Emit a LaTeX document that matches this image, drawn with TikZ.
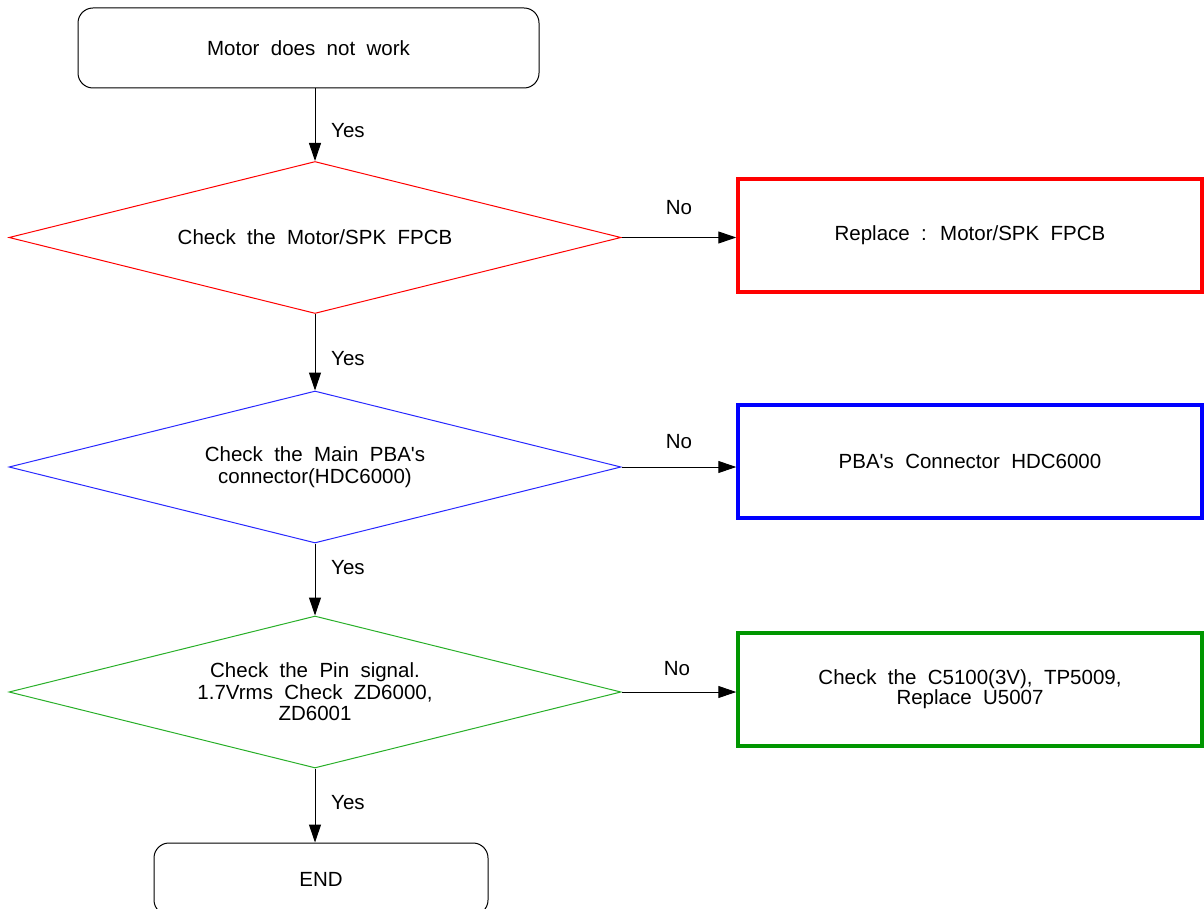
\documentclass[tikz,border=0pt]{standalone}
\usepackage{fontspec}
\setmainfont{Liberation Sans}[WordSpace=2,Ligatures=TeXOff]
\usetikzlibrary{shapes.geometric,arrows.meta}
\definecolor{boxgreen}{RGB}{0,150,0}
\definecolor{dgreen}{RGB}{40,175,40}
\definecolor{dblue}{RGB}{40,40,255}
\begin{document}
\begin{tikzpicture}[x=1pt,y=-1pt,
  every node/.style={font=\fontsize{20.5}{21.5}\selectfont, align=center},
  term/.style={draw=black, line width=1pt, rounded corners=15pt, inner sep=0pt},
  dec/.style={diamond, draw, line width=1pt, minimum width=612pt, minimum height=152pt, aspect=4.03, inner sep=0pt},
  res/.style={draw, line width=3.5pt, minimum width=464pt, minimum height=113pt, inner sep=0pt},
  arr/.style={-{Triangle[length=18pt,width=12pt]}, line width=1pt, draw=black},
  lbl/.style={anchor=west, inner sep=0pt},
  nolbl/.style={inner sep=0pt}
]
\useasboundingbox (0,0) rectangle (1204,909);
\clip (0,0) rectangle (1204,909);

\node[term, minimum width=461pt, minimum height=80pt] (top) at (308.5,48) {Motor does not work};
\node[dec, draw=red] (d1) at (315,237.5) {Check the Motor/SPK FPCB};
\node[dec, draw=dblue] (d2) at (315,467) {Check the Main PBA's\\connector(HDC6000)};
\node[dec, draw=dgreen] (d3) at (315,692) {Check the Pin signal.\\1.7Vrms Check ZD6000,\\ZD6001};
\node[term, minimum width=334pt, minimum height=72pt] (en) at (321,879) {END};

\node[res, draw=red] (r1) at (970,235.5) {Replace : Motor/SPK FPCB};
\node[res, draw=blue] (r2) at (970,461.5) {PBA's Connector HDC6000};
\node[res, draw=boxgreen, font=\fontsize{20.5}{20}\selectfont] (r3) at (970,689.5) {Check the C5100(3V), TP5009,\\Replace U5007};

\draw[arr] (top.south -| d1.north) -- (d1.north);
\draw[arr] (d1.south) -- (d2.north);
\draw[arr] (d2.south) -- (d3.north);
\draw[arr] (d3.south) -- (d3.south |- en.north);
\draw[arr] (d1.east) -- (d1.east -| r1.west);
\draw[arr] (d2.east) -- (d2.east -| r2.west);
\draw[arr] (d3.east) -- (d3.east -| r3.west);

\node[lbl] (y1) at (331,131) {Yes};
\node[lbl] (y2) at (331,359) {Yes};
\node[lbl] (y3) at (331,568) {Yes};
\node[lbl] (y4) at (331,803) {Yes};
\node[nolbl] (n1) at (679,208) {No};
\node[nolbl] (n2) at (679,442) {No};
\node[nolbl] (n3) at (677,669) {No};
\end{tikzpicture}
\end{document}
